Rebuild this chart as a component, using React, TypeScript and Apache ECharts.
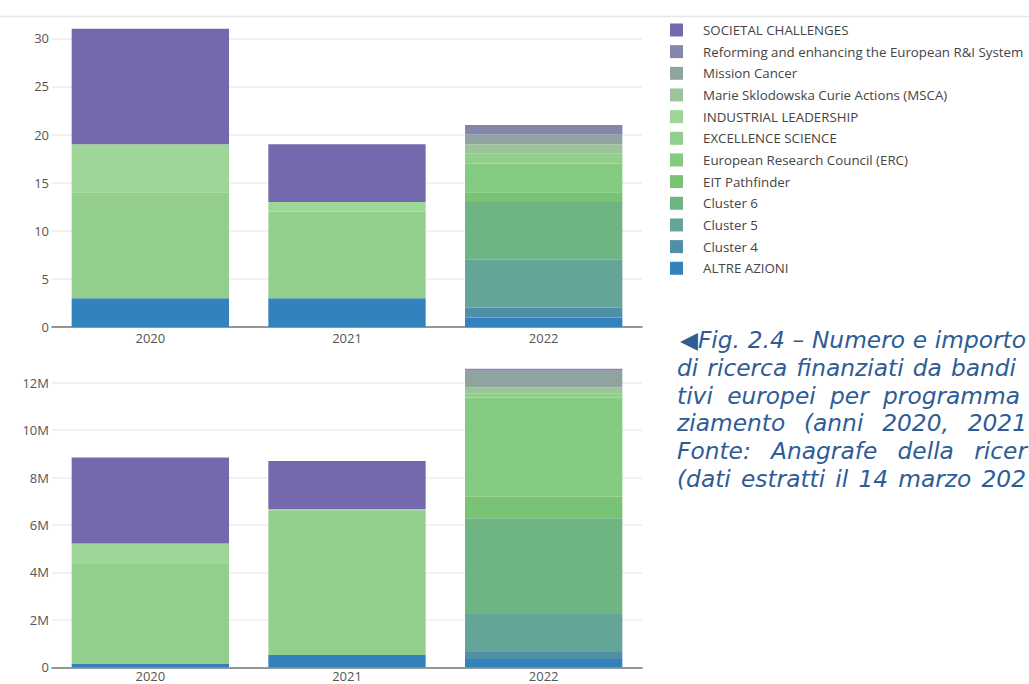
import React, { useEffect, useRef } from "react";
import * as echarts from "echarts";

const years = ["2020", "2021", "2022"];

// stacking order: bottom to top
const seriesNames = [
  "ALTRE AZIONI",
  "Cluster 4",
  "Cluster 5",
  "Cluster 6",
  "EIT Pathfinder",
  "European Research Council (ERC)",
  "EXCELLENCE SCIENCE",
  "INDUSTRIAL LEADERSHIP",
  "Marie Sklodowska Curie Actions (MSCA)",
  "Mission Cancer",
  "Reforming and enhancing the European R&I System",
  "SOCIETAL CHALLENGES",
];

const seriesColors = [
  "#3282be",
  "#4f90a8",
  "#65a598",
  "#6fb584",
  "#78c474",
  "#84ca80",
  "#93cf8c",
  "#9dd697",
  "#9cc49b",
  "#90a49f",
  "#8486ac",
  "#7469ac",
];

// number of projects per year (2020, 2021, 2022)
const altreCount = [3, 3, 1];
const cluster4Count = [0, 0, 1];
const cluster5Count = [0, 0, 5];
const cluster6Count = [0, 0, 6];
const eitCount = [0, 0, 1];
const ercCount = [0, 0, 3];
const excellenceCount = [11, 9, 1];
const industrialCount = [5, 1, 0];
const mscaCount = [0, 0, 1];
const cancerCount = [0, 0, 1];
const reformingCount = [0, 0, 1];
const societalCount = [12, 6, 0];

// funding amount in millions of euro per year (2020, 2021, 2022)
const altreAmount = [0.14, 0.52, 0.35];
const cluster4Amount = [0, 0, 0.3];
const cluster5Amount = [0, 0, 1.6];
const cluster6Amount = [0, 0, 4.03];
const eitAmount = [0, 0, 0.91];
const ercAmount = [0, 0, 4.19];
const excellenceAmount = [4.22, 6.1, 0.17];
const industrialAmount = [0.86, 0.05, 0];
const mscaAmount = [0, 0, 0.25];
const cancerAmount = [0, 0, 0.7];
const reformingAmount = [0, 0, 0.09];
const societalAmount = [3.63, 2.03, 0];

const countSeries = [
  altreCount, cluster4Count, cluster5Count, cluster6Count, eitCount, ercCount,
  excellenceCount, industrialCount, mscaCount, cancerCount, reformingCount, societalCount,
];
const amountSeries = [
  altreAmount, cluster4Amount, cluster5Amount, cluster6Amount, eitAmount, ercAmount,
  excellenceAmount, industrialAmount, mscaAmount, cancerAmount, reformingAmount, societalAmount,
];

const countTicks = { min: 0, max: 30, interval: 5 };
const amountTicks = { min: 0, max: 12, interval: 2 };

// caption (justified text, visible part only)
const captionWords = [
  ["\u25C0Fig.", "2.4", "\u2013", "Numero", "e", "importo"],
  ["di", "ricerca", "finanziati", "da", "bandi"],
  ["tivi", "europei", "per", "programma"],
  ["ziamento", "(anni", "2020,", "2021"],
  ["Fonte:", "Anagrafe", "della", "ricer"],
  ["(dati", "estratti", "il", "14", "marzo", "202"],
];
const captionStart = [680, 677, 677, 677, 677, 677];
const captionEnd = [1026, 1016, 1020, 1027, 1027, 1026];

const FONT = "'Open Sans', sans-serif";
const CAPTION_FONT_SIZE = 23.3;
const CAPTION_FONT = "'DejaVu Sans', Verdana, sans-serif";

export default function App() {
  const ref = useRef<HTMLDivElement>(null);

  useEffect(() => {
    document.body.style.margin = "0";
    const chart = echarts.init(ref.current!, null, { renderer: "svg" });

    const axisLabel = { fontFamily: FONT, fontSize: 13, color: "#555" };

    const series: any[] = [];
    seriesNames.forEach((name, i) => {
      series.push({
        type: "bar",
        name,
        stack: "count",
        xAxisIndex: 0,
        yAxisIndex: 0,
        barWidth: "80%",
        clip: false,
        data: countSeries[i],
        itemStyle: { color: seriesColors[i] },
        emphasis: { disabled: true },
      });
    });
    seriesNames.forEach((name, i) => {
      series.push({
        type: "bar",
        name,
        stack: "amount",
        xAxisIndex: 1,
        yAxisIndex: 1,
        barWidth: "80%",
        clip: false,
        data: amountSeries[i],
        itemStyle: { color: seriesColors[i] },
        emphasis: { disabled: true },
      });
    });

    const graphics: any[] = [
      {
        type: "line",
        shape: { x1: 0, y1: 16.5, x2: 1029, y2: 16.5 },
        style: { stroke: "#e6e6e6", lineWidth: 1.5 },
      },
    ];

    const ctx = document.createElement("canvas").getContext("2d")!;
    ctx.font = `italic ${CAPTION_FONT_SIZE}px ${CAPTION_FONT}`;
    captionWords.forEach((words, li) => {
      const widths = words.map((w) => ctx.measureText(w).width);
      const total = widths.reduce((a, b) => a + b, 0);
      const gap = (captionEnd[li] - captionStart[li] - total) / (words.length - 1);
      let x = captionStart[li];
      words.forEach((w, wi) => {
        graphics.push({
          type: "text",
          x,
          y: 351 + li * 27.8,
          style: {
            text: w,
            fontFamily: CAPTION_FONT,
            fontStyle: "italic",
            fontSize: CAPTION_FONT_SIZE,
            fill: "#2e5c96",
            verticalAlign: "bottom",
          },
        });
        x += widths[wi] + gap;
      });
    });

    const xAxisBase = (gridIndex: number, margin: number) => ({
      type: "category",
      gridIndex,
      data: years,
      axisLine: { lineStyle: { color: "#777", width: 1.5 } },
      axisTick: { show: false },
      axisLabel: { ...axisLabel, margin },
    });

    const yAxisBase = (gridIndex: number, ticks: any, fmt: (v: number) => string) => ({
      type: "value",
      gridIndex,
      min: ticks.min,
      max: ticks.max,
      interval: ticks.interval,
      axisLine: { show: false },
      axisTick: { show: false },
      splitLine: { lineStyle: { color: "#eeeeee", width: 1.5 } },
      axisLabel: { ...axisLabel, margin: 3, formatter: fmt },
    });

    chart.setOption({
      animation: false,
      backgroundColor: "#ffffff",
      grid: [
        { left: 52, right: 387, top: 38.3, bottom: 357 },
        { left: 52, right: 387, top: 382.7, bottom: 16.7 },
      ],
      legend: {
        data: seriesNames.slice().reverse(),
        orient: "vertical",
        left: 665,
        top: 18.5,
        itemWidth: 13,
        itemHeight: 13,
        itemGap: 8.66,
        icon: "rect",
        selectedMode: false,
        textStyle: { fontFamily: FONT, fontSize: 13.3, color: "#444", padding: [0, 0, 0, 15] },
      },
      xAxis: [xAxisBase(0, 4), xAxisBase(1, 2.5)],
      yAxis: [
        yAxisBase(0, countTicks, (v: number) => String(v)),
        yAxisBase(1, amountTicks, (v: number) => (v === 0 ? "0" : v + "M")),
      ],
      series,
      graphic: graphics,
    });

    return () => chart.dispose();
  }, []);

  return <div ref={ref} style={{ width: 1029, height: 684 }} />;
}
